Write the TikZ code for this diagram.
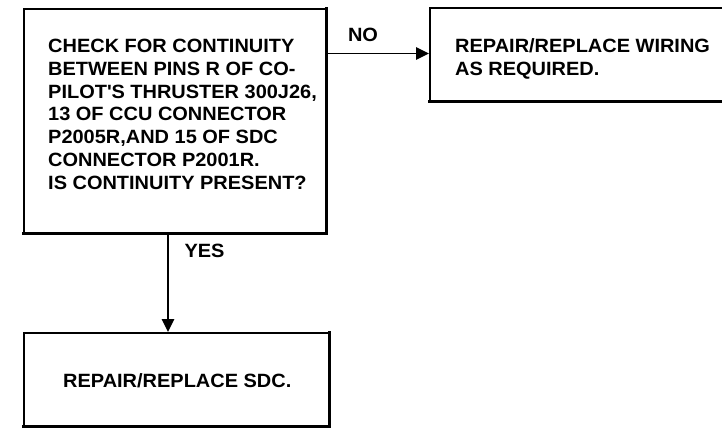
\documentclass[tikz,border=0pt]{standalone}
\usepackage{fontspec}
\setmainfont{Liberation Sans}[FakeStretch=1.04]
\usetikzlibrary{arrows.meta}
\tikzset{
  box/.style={draw, line width=1.6pt, anchor=north west, inner sep=0pt},
  heavy/.style={line width=3pt, line cap=rect},
  txt/.style={anchor=north west, inner sep=0pt, align=left,
    font=\bfseries\fontsize{19.2}{22.8}\selectfont},
  lbl/.style={inner sep=0pt, font=\bfseries\fontsize{19.2}{22.8}\selectfont},
  arr/.style={line width=1.6pt, -{Triangle[length=13pt,width=12.5pt]}}
}
\begin{document}
\begin{tikzpicture}[x=1pt,y=-1pt]
\useasboundingbox (0,0) rectangle (722,429);
\clip (0,0) rectangle (722,429);
% boxes
\node[box, minimum width=302pt, minimum height=224pt] (b1) at (23,8) {};
\node[box, minimum width=340pt, minimum height=93pt] (b2) at (429,7) {};
\node[box, minimum width=305pt, minimum height=93pt] (b3) at (23,332) {};
\draw[heavy] (b1.north east) -- (b1.south east) -- (b1.south west);
\draw[heavy] (b2.south west) -- (b2.south east);
\draw[heavy] (b3.north east) -- (b3.south east) -- (b3.south west);
% texts
\node[txt] (t1) at (48,38.8) {CHECK FOR CONTINUITY\\BETWEEN PINS R OF CO-\\PILOT\textquotesingle S THRUSTER 300J26,\\13 OF CCU CONNECTOR\\P2005R,AND 15 OF SDC\\CONNECTOR P2001R.\\IS CONTINUITY PRESENT?};
\node[txt] (t2) at (455,38.5) {REPAIR/REPLACE WIRING\\AS REQUIRED.};
\node[txt] (t3) at (63,373.3) {REPAIR/REPLACE SDC.};
% connectors
\coordinate (noy) at (0,53.5);
\coordinate (yesx) at (168,0);
\draw[arr] (b1.east |- noy) -- (b2.west |- noy);
\draw[arr] (b1.south -| yesx) -- (b3.north -| yesx);
\node[lbl] (no) at (363,34.5) {NO};
\node[lbl] (yes) at (204.5,250.5) {YES};
\end{tikzpicture}
\end{document}
